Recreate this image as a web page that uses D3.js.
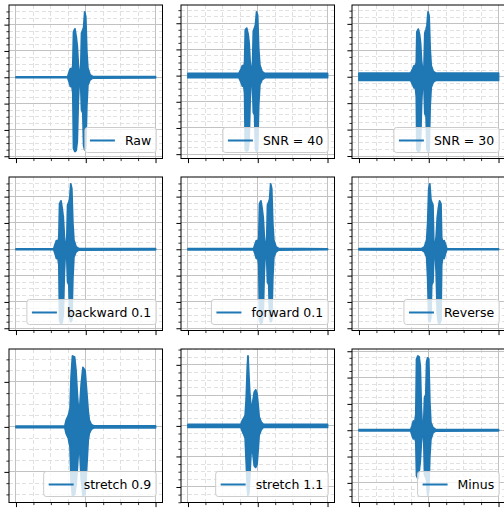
<!DOCTYPE html>
<html>
<head>
<meta charset="utf-8">
<script src="https://d3js.org/d3.v7.min.js"></script>
<style>
    body{ margin:0; background:#fff; }
    svg{ display:block; font-family:"DejaVu Sans", sans-serif; }
    .tick line{ stroke:#000; }
</style>
</head>
<body>
<svg id="plot" width="504" height="508"></svg>
<script>
// legend labels, one per panel (row by row)
const labels = ["Raw", "SNR = 40", "SNR = 30",
                "backward 0.1", "forward 0.1", "Reverse",
                "stretch 0.9", "stretch 1.1", "Minus"];

// major y tick step per panel (x ticks are 0, 1, 2 everywhere)
const yStep = [1, 1, 1, 1, 1, 1, 2, 1, 1];
const xMajor = [0, 1, 2];

// waveform envelopes: [x, upper, lower]
const rawEnv = [[0,.01,-.01],[.74,.01,-.01],[.76,.18,-.16],[.78,.33,-.35],[.80,.28,-.3],[.815,.45,-.6],
    [.825,1.72,-2.7],[.845,1.84,-2.82],[.862,1.55,-2.78],[.878,1.2,-2.45],[.893,.5,-.9],[.905,.22,-.25],
    [.928,.28,-.3],[.94,1.68,-1.25],[.958,1.8,-1.35],[.97,1.9,-2.6],[.985,2.48,-2.75],[1.0,2.3,-2.7],
    [1.015,1.0,-1.1],[1.03,.35,-.3],[1.06,.1,-.1],[1.1,.03,-.03],[2.0,.02,-.02]];

const snr40Env = [[0,.08,-.08],[.73,.08,-.08],[.76,.25,-.25],[.78,.38,-.4],[.80,.35,-.38],[.812,.5,-.7],
    [.822,1.75,-2.85],[.842,1.81,-2.88],[.86,1.6,-2.85],[.876,1.25,-2.5],[.89,.55,-1.0],[.902,.3,-.3],
    [.925,.32,-.35],[.937,1.7,-1.4],[.955,1.82,-1.5],[.968,1.95,-2.8],[.983,2.43,-2.9],[.998,2.3,-2.85],
    [1.013,1.05,-1.15],[1.03,.4,-.35],[1.06,.16,-.16],[1.1,.08,-.08],[2.0,.08,-.08]];

const snr30Env = [[0,.14,-.14],[.74,.14,-.14],[.77,.3,-.3],[.79,.42,-.42],[.81,.4,-.42],[.822,.55,-.75],
    [.83,1.7,-2.75],[.85,1.8,-2.83],[.868,1.6,-2.8],[.883,1.25,-2.45],[.897,.6,-1.0],[.91,.32,-.35],
    [.932,.35,-.38],[.944,1.65,-1.4],[.962,1.8,-1.5],[.975,1.95,-2.75],[.99,2.45,-2.83],[1.005,2.3,-2.8],
    [1.02,1.05,-1.1],[1.035,.42,-.4],[1.065,.2,-.2],[1.1,.14,-.14],[2.0,.14,-.14]];

const backwardEnv = [[0,.01,-.01],[.54,.01,-.01],[.56,.18,-.16],[.58,.33,-.35],[.60,.28,-.3],[.615,.45,-.6],
    [.625,1.72,-2.7],[.645,1.84,-2.82],[.662,1.55,-2.78],[.678,1.2,-2.45],[.693,.5,-.9],[.705,.22,-.25],
    [.728,.28,-.3],[.74,1.68,-1.25],[.758,1.8,-1.35],[.77,1.9,-2.6],[.785,2.48,-2.75],[.80,2.3,-2.7],
    [.815,1.0,-1.1],[.83,.35,-.3],[.86,.1,-.1],[.90,.03,-.03],[2.0,.02,-.02]];

const forwardEnv = [[0,.02,-.02],[.94,.02,-.02],[.96,.18,-.16],[.98,.33,-.35],[1.0,.28,-.3],[1.015,.45,-.6],
    [1.025,1.72,-2.7],[1.045,1.84,-2.82],[1.062,1.55,-2.78],[1.078,1.2,-2.45],[1.093,.5,-.9],[1.105,.22,-.25],
    [1.128,.28,-.3],[1.14,1.68,-1.25],[1.158,1.8,-1.35],[1.17,1.9,-2.6],[1.185,2.48,-2.75],[1.2,2.3,-2.7],
    [1.215,1.0,-1.1],[1.23,.35,-.3],[1.26,.1,-.1],[1.3,.03,-.03],[2.0,.01,-.01]];

const reverseEnv = [[0,.02,-.02],[.9,.03,-.03],[.94,.1,-.1],[.97,.35,-.3],[.985,1.0,-1.1],[1.0,2.3,-2.7],
    [1.015,2.48,-2.75],[1.03,1.9,-2.6],[1.042,1.8,-1.35],[1.06,1.68,-1.25],[1.072,.28,-.3],[1.095,.22,-.25],
    [1.107,.5,-.9],[1.122,1.2,-2.45],[1.138,1.55,-2.78],[1.155,1.84,-2.82],[1.175,1.72,-2.7],[1.185,.45,-.6],
    [1.2,.28,-.3],[1.22,.33,-.35],[1.24,.18,-.16],[1.26,.01,-.01],[2.0,.01,-.01]];

const stretch09Env = [[0,.03,-.03],[.70,.03,-.03],[.72,.3,-.3],[.75,.5,-.5],[.775,.8,-.9],[.79,2.2,-2.4],
    [.81,3.15,-3.05],[.84,3.1,-3.0],[.86,2.5,-2.6],[.88,1.4,-1.8],[.9,.6,-.8],[.915,.9,-1.1],
    [.935,1.9,-2.3],[.96,2.64,-3.05],[.99,2.5,-3.0],[1.01,1.7,-2.0],[1.035,.7,-.6],[1.05,.3,-.3],
    [1.08,.1,-.1],[1.12,.04,-.04],[2.0,.04,-.04]];

const stretch11Env = [[0,.05,-.05],[.76,.05,-.05],[.78,.18,-.18],[.80,.25,-.28],[.82,.35,-.4],[.835,.9,-1.2],
    [.85,1.9,-2.0],[.86,2.29,-2.28],[.872,1.7,-2.2],[.885,1.1,-1.7],[.9,.7,-1.0],[.915,.5,-.55],
    [.93,.8,-.9],[.95,1.1,-1.3],[.97,1.18,-1.36],[.99,1.05,-1.25],[1.005,.7,-.8],[1.02,.3,-.3],
    [1.05,.12,-.12],[1.08,.05,-.05],[2.0,.05,-.05]];

const minusEnv = [[0,.02,-.02],[.74,.02,-.02],[.76,.16,-.18],[.78,.35,-.33],[.80,.3,-.28],[.815,.6,-.45],
    [.825,2.7,-1.72],[.845,2.82,-1.84],[.862,2.78,-1.55],[.878,2.45,-1.2],[.893,.9,-.5],[.905,.25,-.22],
    [.928,.3,-.28],[.94,1.25,-1.68],[.958,1.35,-1.8],[.97,2.6,-1.9],[.985,2.75,-2.48],[1.0,2.7,-2.3],
    [1.015,1.1,-1.0],[1.03,.3,-.35],[1.06,.1,-.1],[1.1,.03,-.03],[2.0,.02,-.02]];

const envelopes = [rawEnv, snr40Env, snr30Env, backwardEnv, forwardEnv, reverseEnv,
                   stretch09Env, stretch11Env, minusEnv];

//layout
const svg = d3.select("svg#plot");
const colLeft = [9, 181, 352];
const rowTop = [5, 177, 349];
const pw = 153.5, ph = 153.5;
const blue = "#1f77b4";
const fs = 12.5;

envelopes.forEach((env, i) => {
    const col = i % 3, row = Math.floor(i / 3);
    const g = svg.append("g").attr("transform", `translate(${colLeft[col]},${rowTop[row]})`);

    const x = d3.scaleLinear().domain([-0.1, 2.1]).range([0, pw]);
    const hi = d3.max(env, d => d[1]), lo = d3.min(env, d => d[2]);
    const pad = (hi - lo) * 0.05;
    const y = d3.scaleLinear().domain([lo - pad, hi + pad]).range([ph, 0]);

    const step = yStep[i];
    const yAll = d3.range(Math.ceil((lo - pad) / (step / 4)), Math.floor((hi + pad) / (step / 4)) + 1)
        .map(k => k * step / 4);
    const yMajor = yAll.filter(v => Math.abs(Math.round(v / step) * step - v) < 1e-9);
    const yMinor = yAll.filter(v => !yMajor.includes(v));
    const xMinor = d3.range(0, 2.01, 0.25).filter(v => !xMajor.includes(v));

    //grid: minor dashed, then major solid
    const grid = g.append("g").attr("shape-rendering", "crispEdges");
    grid.selectAll("line.xmin").data(xMinor).enter().append("line")
        .attr("x1", d => x(d)).attr("x2", d => x(d)).attr("y1", 0).attr("y2", ph)
        .attr("stroke", "#dadada").attr("stroke-width", 0.8).attr("stroke-dasharray", "4,2.5");
    grid.selectAll("line.ymin").data(yMinor).enter().append("line")
        .attr("x1", 0).attr("x2", pw).attr("y1", d => y(d)).attr("y2", d => y(d))
        .attr("stroke", "#dadada").attr("stroke-width", 0.8).attr("stroke-dasharray", "4,2.5");
    grid.selectAll("line.xmaj").data(xMajor).enter().append("line")
        .attr("x1", d => x(d)).attr("x2", d => x(d)).attr("y1", 0).attr("y2", ph)
        .attr("stroke", "#c2c2c2").attr("stroke-width", 1);
    grid.selectAll("line.ymaj").data(yMajor).enter().append("line")
        .attr("x1", 0).attr("x2", pw).attr("y1", d => y(d)).attr("y2", d => y(d))
        .attr("stroke", "#c2c2c2").attr("stroke-width", 1);

    //signal
    const clipId = "clip" + i;
    g.append("clipPath").attr("id", clipId).append("rect").attr("width", pw).attr("height", ph);
    const area = d3.area().x(d => x(d[0])).y0(d => y(d[2])).y1(d => y(d[1]));
    g.append("path")
        .datum(env)
        .attr("clip-path", `url(#${clipId})`)
        .attr("d", area)
        .attr("fill", blue)
        .attr("stroke", blue)
        .attr("stroke-width", 1.8)
        .attr("stroke-linejoin", "round");

    //ticks
    const noLabel = () => "";
    g.append("g").attr("transform", `translate(0,${ph})`)
        .call(d3.axisBottom(x).tickValues(xMajor).tickSize(4.6).tickSizeOuter(0).tickFormat(noLabel))
        .call(a => a.select(".domain").remove());
    g.append("g").attr("transform", `translate(0,${ph})`)
        .call(d3.axisBottom(x).tickValues(xMinor).tickSize(2.6).tickSizeOuter(0).tickFormat(noLabel))
        .call(a => a.select(".domain").remove())
        .selectAll("line").attr("stroke-width", 0.8);
    g.append("g")
        .call(d3.axisLeft(y).tickValues(yMajor).tickSize(4.6).tickSizeOuter(0).tickFormat(noLabel))
        .call(a => a.select(".domain").remove());
    g.append("g")
        .call(d3.axisLeft(y).tickValues(yMinor).tickSize(2.6).tickSizeOuter(0).tickFormat(noLabel))
        .call(a => a.select(".domain").remove())
        .selectAll("line").attr("stroke-width", 0.8);

    //spines
    g.append("rect").attr("width", pw).attr("height", ph)
        .attr("fill", "none").attr("stroke", "#000").attr("stroke-width", 1);

    //legend, lower right
    const legend = g.append("g");
    const box = legend.append("rect");
    const txt = legend.append("text")
        .attr("font-size", fs)
        .attr("fill", "#000")
        .text(labels[i]);
    const tw = txt.node().getComputedTextLength();
    const bw = 0.4 * fs + 2 * fs + 0.8 * fs + tw + 0.4 * fs;
    const bh = 25;
    const bx = pw - 6.3 - bw, by = ph - 6 - bh;
    box.attr("x", bx).attr("y", by).attr("width", bw).attr("height", bh)
        .attr("rx", 2.6).attr("ry", 2.6)
        .attr("fill", "#fff").attr("fill-opacity", 0.8)
        .attr("stroke", "#cccccc").attr("stroke-width", 1);
    const baseY = by + bh - 7.5;
    legend.append("line")
        .attr("x1", bx + 0.4 * fs).attr("x2", bx + 2.4 * fs)
        .attr("y1", baseY - 4.5).attr("y2", baseY - 4.5)
        .attr("stroke", blue).attr("stroke-width", 2);
    txt.attr("x", bx + 3.2 * fs).attr("y", baseY);
});
</script>
</body>
</html>
